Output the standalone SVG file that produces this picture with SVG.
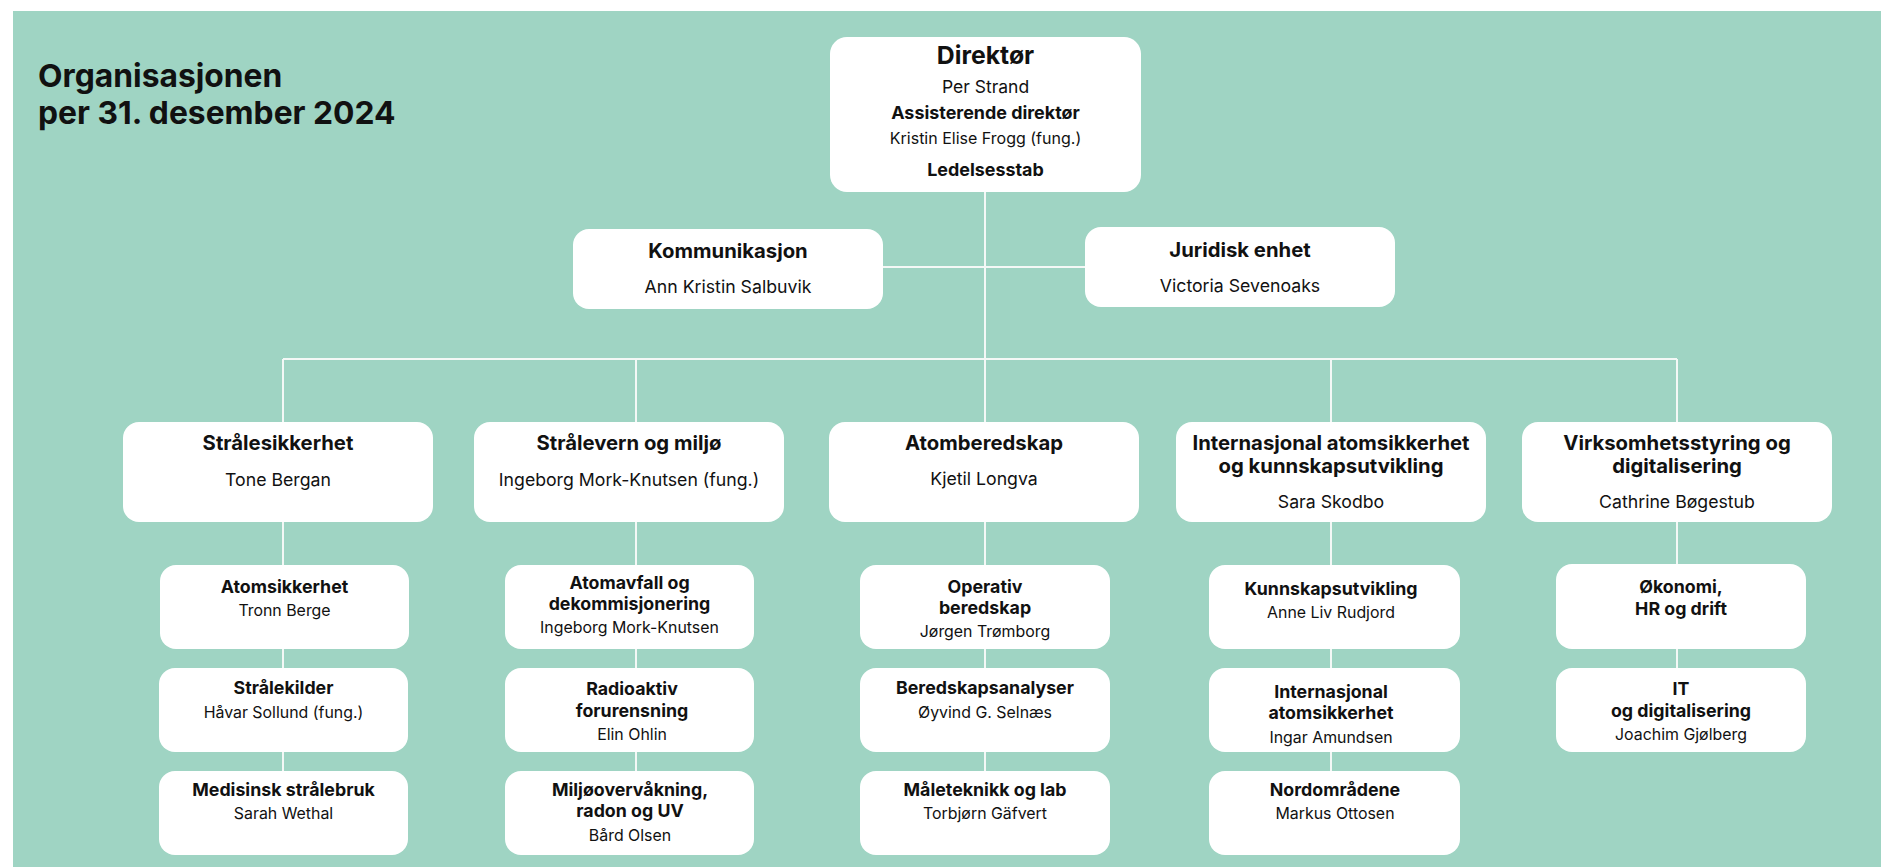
<svg xmlns="http://www.w3.org/2000/svg" width="1881" height="867" viewBox="0 0 1881 867">
<style>
text{font-family:Inter,"Liberation Sans","DejaVu Sans",sans-serif;fill:#111;text-anchor:middle}
.b{font-weight:700}
.box{fill:#fff}
.con{stroke:#f4f8f6;stroke-width:2;fill:none}
.t2{font-size:20.3px;font-weight:700}
.n2{font-size:17.7px}
.t3{font-size:17.8px;font-weight:700}
.n3{font-size:15.9px}
</style>
<rect x="0" y="0" width="1881" height="867" fill="#fff"/>
<rect x="13" y="11" width="1868" height="856" fill="#9fd4c3"/>
<g id="title">
<text x="38" y="87" style="text-anchor:start;font-size:31.8px;font-weight:700">Organisasjonen</text>
<text x="38" y="124" style="text-anchor:start;font-size:31.8px;font-weight:700">per 31. desember 2024</text>
</g>
<g id="connectors" class="con">
<line x1="985" y1="192" x2="985" y2="359"/>
<line x1="883" y1="267" x2="1085" y2="267"/>
<line x1="283" y1="359" x2="1677" y2="359"/>
<line x1="283" y1="359" x2="283" y2="771"/>
<line x1="636" y1="359" x2="636" y2="771"/>
<line x1="985" y1="359" x2="985" y2="771"/>
<line x1="1331" y1="359" x2="1331" y2="771"/>
<line x1="1677" y1="359" x2="1677" y2="668"/>
</g>
<g id="direktor">
<rect class="box" x="830" y="37" width="311" height="155" rx="17"/>
<text x="985.5" y="64" class="b" style="font-size:24.8px">Direktør</text>
<text x="985.5" y="93" style="font-size:17.5px">Per Strand</text>
<text x="985.5" y="119" class="b" style="font-size:17.9px">Assisterende direktør</text>
<text x="985.5" y="144" style="font-size:16px">Kristin Elise Frogg (fung.)</text>
<text x="985.5" y="176" class="b" style="font-size:17.9px">Ledelsesstab</text>
</g>
<g id="kommunikasjon">
<rect class="box" x="573" y="229" width="310" height="80" rx="16"/>
<text x="728" y="258" class="t2">Kommunikasjon</text>
<text x="728" y="293" class="n2">Ann Kristin Salbuvik</text>
</g>
<g id="juridisk">
<rect class="box" x="1085" y="227" width="310" height="80" rx="16"/>
<text x="1240" y="257" class="t2">Juridisk enhet</text>
<text x="1240" y="292" class="n2">Victoria Sevenoaks</text>
</g>
<g id="stralesikkerhet">
<rect class="box" x="123" y="422" width="310" height="100" rx="16"/>
<text x="278" y="450" class="t2">Strålesikkerhet</text>
<text x="278" y="486" class="n2">Tone Bergan</text>
</g>
<g id="stralevern">
<rect class="box" x="474" y="422" width="310" height="100" rx="16"/>
<text x="629" y="450" class="t2">Strålevern og miljø</text>
<text x="629" y="486" class="n2">Ingeborg Mork-Knutsen (fung.)</text>
</g>
<g id="atomberedskap">
<rect class="box" x="829" y="422" width="310" height="100" rx="16"/>
<text x="984" y="450" class="t2">Atomberedskap</text>
<text x="984" y="485" class="n2">Kjetil Longva</text>
</g>
<g id="internasjonal">
<rect class="box" x="1176" y="422" width="310" height="100" rx="16"/>
<text x="1331" y="450" class="t2">Internasjonal atomsikkerhet</text>
<text x="1331" y="473" class="t2">og kunnskapsutvikling</text>
<text x="1331" y="508" class="n2">Sara Skodbo</text>
</g>
<g id="virksomhet">
<rect class="box" x="1522" y="422" width="310" height="100" rx="16"/>
<text x="1677" y="450" class="t2">Virksomhetsstyring og</text>
<text x="1677" y="473" class="t2">digitalisering</text>
<text x="1677" y="508" class="n2">Cathrine Bøgestub</text>
</g>
<g id="atomsikkerhet">
<rect class="box" x="160" y="565" width="249" height="84" rx="16"/>
<text x="284.5" y="593" class="t3">Atomsikkerhet</text>
<text x="284.5" y="616" class="n3">Tronn Berge</text>
</g>
<g id="stralekilder">
<rect class="box" x="159" y="668" width="249" height="84" rx="16"/>
<text x="283.5" y="694" class="t3">Strålekilder</text>
<text x="283.5" y="718" class="n3">Håvar Sollund (fung.)</text>
</g>
<g id="medisinsk">
<rect class="box" x="159" y="771" width="249" height="84" rx="16"/>
<text x="283.5" y="796" class="t3">Medisinsk strålebruk</text>
<text x="283.5" y="819" class="n3">Sarah Wethal</text>
</g>
<g id="atomavfall">
<rect class="box" x="505" y="565" width="249" height="84" rx="16"/>
<text x="629.5" y="589" class="t3">Atomavfall og</text>
<text x="629.5" y="610" class="t3">dekommisjonering</text>
<text x="629.5" y="633" class="n3">Ingeborg Mork-Knutsen</text>
</g>
<g id="radioaktiv">
<rect class="box" x="505" y="668" width="249" height="84" rx="16"/>
<text x="632" y="695" class="t3">Radioaktiv</text>
<text x="632" y="717" class="t3">forurensning</text>
<text x="632" y="740" class="n3">Elin Ohlin</text>
</g>
<g id="miljo">
<rect class="box" x="505" y="771" width="249" height="84" rx="16"/>
<text x="630" y="796" class="t3">Miljøovervåkning,</text>
<text x="630" y="817" class="t3">radon og UV</text>
<text x="630" y="841" class="n3">Bård Olsen</text>
</g>
<g id="operativ">
<rect class="box" x="860" y="565" width="250" height="84" rx="16"/>
<text x="985" y="593" class="t3">Operativ</text>
<text x="985" y="614" class="t3">beredskap</text>
<text x="985" y="637" class="n3">Jørgen Trømborg</text>
</g>
<g id="beredskapsanalyser">
<rect class="box" x="860" y="668" width="250" height="84" rx="16"/>
<text x="985" y="694" class="t3">Beredskapsanalyser</text>
<text x="985" y="718" class="n3">Øyvind G. Selnæs</text>
</g>
<g id="maleteknikk">
<rect class="box" x="860" y="771" width="250" height="84" rx="16"/>
<text x="985" y="796" class="t3">Måleteknikk og lab</text>
<text x="985" y="819" class="n3">Torbjørn Gäfvert</text>
</g>
<g id="kunnskapsutvikling">
<rect class="box" x="1209" y="565" width="251" height="84" rx="16"/>
<text x="1331" y="595" class="t3">Kunnskapsutvikling</text>
<text x="1331" y="618" class="n3">Anne Liv Rudjord</text>
</g>
<g id="int-atomsikkerhet">
<rect class="box" x="1209" y="668" width="251" height="84" rx="16"/>
<text x="1331" y="698" class="t3">Internasjonal</text>
<text x="1331" y="719" class="t3">atomsikkerhet</text>
<text x="1331" y="743" class="n3">Ingar Amundsen</text>
</g>
<g id="nordomradene">
<rect class="box" x="1209" y="771" width="251" height="84" rx="16"/>
<text x="1335" y="796" class="t3">Nordområdene</text>
<text x="1335" y="819" class="n3">Markus Ottosen</text>
</g>
<g id="okonomi">
<rect class="box" x="1556" y="564" width="250" height="85" rx="16"/>
<text x="1681" y="593" class="t3">Økonomi,</text>
<text x="1681" y="615" class="t3">HR og drift</text>
</g>
<g id="it">
<rect class="box" x="1556" y="668" width="250" height="84" rx="16"/>
<text x="1681" y="695" class="t3">IT</text>
<text x="1681" y="717" class="t3">og digitalisering</text>
<text x="1681" y="740" class="n3">Joachim Gjølberg</text>
</g>
</svg>
